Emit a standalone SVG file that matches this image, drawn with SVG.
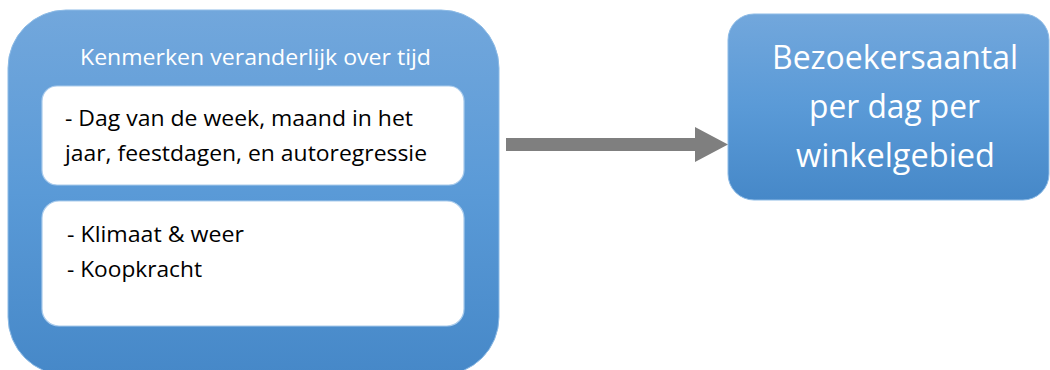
<svg xmlns="http://www.w3.org/2000/svg" width="1050" height="370" viewBox="0 0 1050 370">
  <defs>
    <linearGradient id="blueGrad" x1="0" y1="0" x2="0" y2="1">
      <stop offset="0" stop-color="#72a7dc"/>
      <stop offset="0.5" stop-color="#5a9ad7"/>
      <stop offset="1" stop-color="#4688c8"/>
    </linearGradient>
    <style>
      .outer { fill: url(#blueGrad); stroke: #8dbbe6; stroke-width: 1; }
      .inner { fill: #ffffff; stroke: #a9cbec; stroke-width: 1.2; }
      .wt { font-family: "Open Sans", "Noto Sans", sans-serif; fill: #ffffff; }
      .bt { font-family: "Open Sans", "Noto Sans", sans-serif; fill: #000000; font-size: 22px; }
      .conn { fill: #7f7f7f; }
    </style>
  </defs>

  <g id="node-features">
    <rect class="outer" x="8" y="10" width="491" height="365" rx="58" ry="58"/>
    <text class="wt" x="80" y="65" font-size="22" textLength="351" lengthAdjust="spacingAndGlyphs">Kenmerken veranderlijk over tijd</text>
  </g>

  <g id="node-time">
    <rect class="inner" x="42" y="86" width="422" height="99" rx="15" ry="15"/>
    <text class="bt" x="65" y="126" textLength="348" lengthAdjust="spacingAndGlyphs">- Dag van de week, maand in het</text>
    <text class="bt" x="65" y="161" textLength="362" lengthAdjust="spacingAndGlyphs">jaar, feestdagen, en autoregressie</text>
  </g>

  <g id="node-climate">
    <rect class="inner" x="42" y="201" width="422" height="125" rx="17" ry="17"/>
    <text class="bt" x="67" y="242" textLength="177" lengthAdjust="spacingAndGlyphs">- Klimaat &amp; weer</text>
    <text class="bt" x="67" y="277" textLength="135" lengthAdjust="spacingAndGlyphs">- Koopkracht</text>
  </g>

  <g id="node-visitors">
    <rect class="outer" x="728" y="14" width="321" height="186" rx="26" ry="26"/>
    <text class="wt" x="772" y="69" font-size="32" textLength="246" lengthAdjust="spacingAndGlyphs">Bezoekersaantal</text>
    <text class="wt" x="809" y="118" font-size="32" textLength="171" lengthAdjust="spacingAndGlyphs">per dag per</text>
    <text class="wt" x="796" y="167" font-size="32" textLength="199" lengthAdjust="spacingAndGlyphs">winkelgebied</text>
  </g>

  <g id="connectors">
    <polygon class="conn" points="506,138 695,138 695,127 728,144.5 695,162 695,151 506,151"/>
  </g>
</svg>
